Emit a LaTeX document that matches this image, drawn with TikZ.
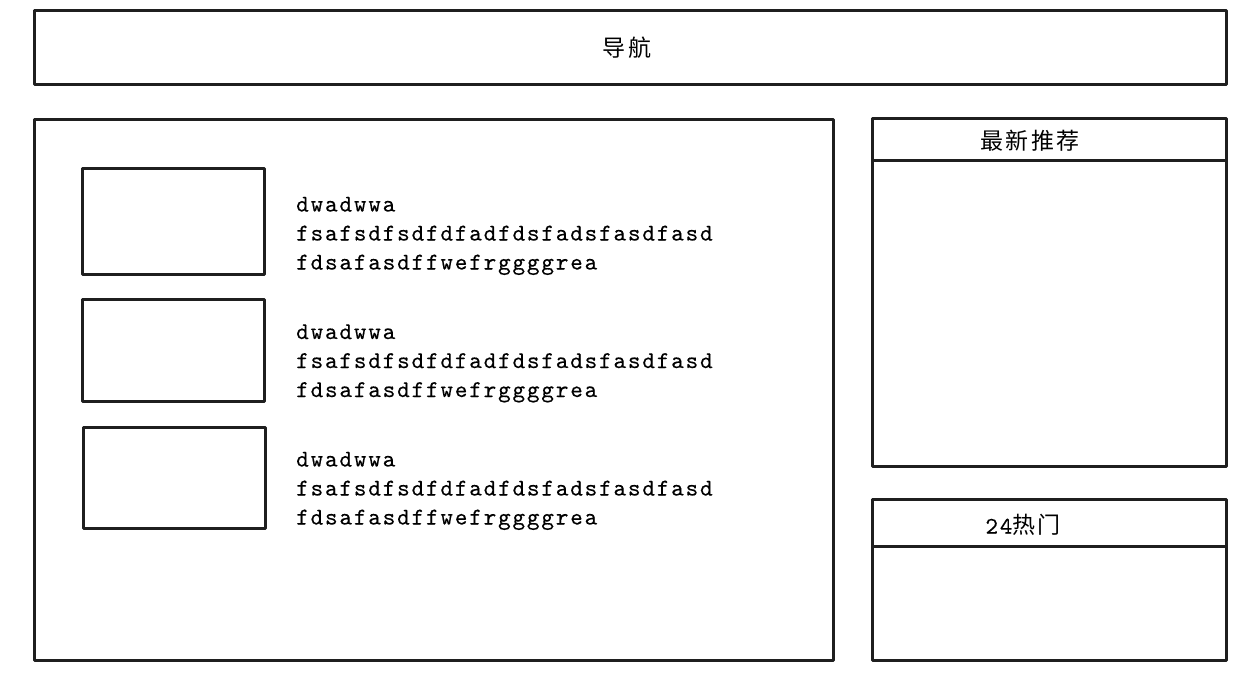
\documentclass[tikz,border=0pt]{standalone}
\usepackage{fontspec}
\newfontfamily\cjkf{Noto Sans CJK SC}[LetterSpace=9]
\newfontfamily\monof{lmmono10-regular}[Extension=.otf,LetterSpace=7.6,FakeBold=0.3]
\begin{document}
\begin{tikzpicture}[x=1pt,y=-1pt,
  box/.style={draw=black!88,line width=3pt,line join=round,fill=none},
  cjklabel/.style={inner sep=0pt,font=\fontsize{23}{26}\cjkf},
  bodytext/.style={inner sep=0pt,anchor=base west,font=\fontsize{24}{29}\monof}]
\useasboundingbox[fill=white] (0,0) rectangle (1250,683);
% navigation bar
\draw[box] (34,10) rectangle (1226,84);
\node[cjklabel] (nav) at (627,48) {导航};
% main content area
\draw[box] (34,119) rectangle (833,660);
\draw[box] (82,168) rectangle (264,274);
\draw[box] (82,299) rectangle (264,401);
\draw[box] (83,427) rectangle (265,528);
\foreach \i/\y in {1/211.5,2/339,3/466.5}{
  \node[bodytext] (l\i a) at (296,\y) {dwadwwa};
  \node[bodytext] (l\i b) at (296,\y+29) {fsafsdfsdfdfadfdsfadsfasdfasd};
  \node[bodytext] (l\i c) at (296,\y+58) {fdsafasdffwefrggggrea};
}
% right column: latest recommendations
\draw[box] (872,118) rectangle (1226,466);
\draw[box] (872,160) -- (1226,160);
\node[cjklabel] (rec) at (1030,141) {最新推荐};
% right column: hot 24
\draw[box] (872,499) rectangle (1226,660);
\draw[box] (872,546) -- (1226,546);
\node[cjklabel] (hot) at (1023,525) {{\fontsize{24}{26}\monof 24}热门};
\end{tikzpicture}
\end{document}
